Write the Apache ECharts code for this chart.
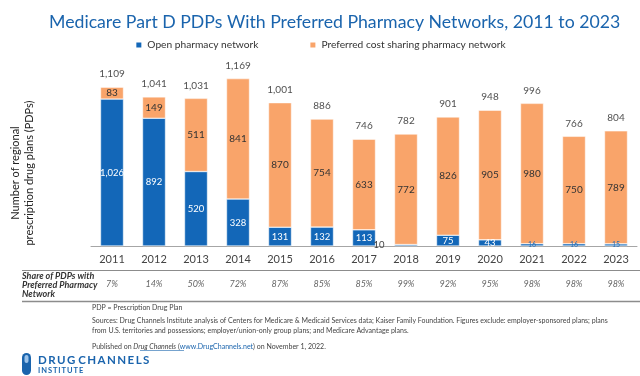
<!DOCTYPE html>
<html><head><meta charset="utf-8">
<script src="https://cdn.jsdelivr.net/npm/echarts@6/dist/echarts.min.js"></script>
<style>html,body{margin:0;padding:0;background:#fff}#c{width:640px;height:376px}</style>
</head><body><div id="c"></div>
<script>
const years = ['2011','2012','2013','2014','2015','2016','2017','2018','2019','2020','2021','2022','2023'];
const openNet = [1026, 892, 520, 328, 131, 132, 113, 10, 75, 43, 16, 16, 15];
const preferredNet = [83, 149, 511, 841, 870, 754, 633, 772, 826, 905, 980, 750, 789];
const totals = [1109, 1041, 1031, 1169, 1001, 886, 746, 782, 901, 948, 996, 766, 804];
const sharePct = ['7%','14%','50%','72%','87%','85%','85%','99%','92%','95%','98%','98%','98%'];

const BLUE = '#1367b8', ORANGE = '#f9a46a', FONT = 'Lato';
const fmt = v => v.toLocaleString('en-US');
const spaced = s => s.split('').join('\u2009');

const chart = echarts.init(document.getElementById('c'));
const openData = openNet.map(v => {
  if (v < 12) return {value: v, label: {position: 'left', distance: 10, color: '#444'}};
  if (v < 30) return {value: v, label: {fontSize: 7, color: '#2a6fb5', position: 'inside'}};
  return v;
});
chart.setOption({
  animation: false,
  textStyle: {fontFamily: FONT},
  title: {text: 'Medicare Part D PDPs With Preferred Pharmacy Networks, 2011 to 2023', left: 44, top: 8,
    textStyle: {fontFamily: FONT, fontSize: 17.7, fontWeight: 'normal', color: '#1a64ad'}},
  legend: {top: 35, left: 'center', itemWidth: 7, itemHeight: 7, itemGap: 50, icon: 'rect',
    textStyle: {fontFamily: FONT, fontSize: 10.2, color: '#333'},
    data: ['Open pharmacy network', 'Preferred cost sharing pharmacy network']},
  grid: {left: 91, right: 3, top: 67, bottom: 130},
  xAxis: [
    {type: 'category', data: years, axisTick: {show: false},
      axisLine: {lineStyle: {color: '#a6a6a6', width: 1}},
      axisLabel: {margin: 8, fontSize: 11, color: '#444', fontFamily: FONT}},
    {type: 'category', data: sharePct, position: 'bottom', offset: 26, axisTick: {show: false},
      axisLine: {show: false},
      axisLabel: {margin: 8, fontSize: 9, color: '#666', fontStyle: 'italic', fontFamily: FONT}}
  ],
  yAxis: {type: 'value', min: 0, max: 1250, show: false},
  series: [
    {name: 'Open pharmacy network', type: 'bar', stack: 't', barWidth: 23, data: openData,
      itemStyle: {color: BLUE, borderColor: '#fff', borderWidth: 0.5},
      label: {show: true, position: 'inside', color: '#fff', fontSize: 9.5, fontFamily: FONT, formatter: p => fmt(p.value)}},
    {name: 'Preferred cost sharing pharmacy network', type: 'bar', stack: 't', barWidth: 23, data: preferredNet,
      itemStyle: {color: ORANGE, borderColor: '#fff', borderWidth: 0.5},
      label: {show: true, position: 'inside', color: '#333', fontSize: 10, fontFamily: FONT, formatter: p => fmt(p.value)}},
    {name: 'Total', type: 'scatter', data: totals, symbolSize: 0, silent: true,
      label: {show: true, position: 'top', distance: 8, color: '#222', fontSize: 10, fontFamily: FONT, formatter: p => fmt(p.value)}}
  ],
  graphic: [
    {type: 'text', x: 22, y: 173, rotation: Math.PI / 2,
      style: {text: 'Number of regional\nprescription drug plans (PDPs)', fontFamily: FONT, fontSize: 11, fill: '#222',
        textAlign: 'center', textVerticalAlign: 'middle', lineHeight: 14}},
    {type: 'line', shape: {x1: 22, y1: 270.5, x2: 640, y2: 270.5}, style: {stroke: '#8c8c8c', lineWidth: 1}},
    {type: 'line', shape: {x1: 22, y1: 301.5, x2: 640, y2: 301.5}, style: {stroke: '#8c8c8c', lineWidth: 1.5}},
    {type: 'text', x: 22, y: 271, style: {text: 'Share of PDPs with\nPreferred Pharmacy\nNetwork', fontFamily: FONT,
      fontSize: 9, fontWeight: 'bold', fontStyle: 'italic', fill: '#333', lineHeight: 9.2}},
    {type: 'text', x: 92, y: 304, style: {text: 'PDP = Prescription Drug Plan', fontFamily: FONT, fontSize: 7, fill: '#444'}},
    {type: 'text', x: 92, y: 315, style: {text: 'Sources: Drug Channels Institute analysis of Centers for Medicare & Medicaid Services data; Kaiser Family Foundation. Figures exclude: employer-sponsored plans; plans\nfrom U.S. territories and possessions; employer/union-only group plans; and Medicare Advantage plans.',
      fontFamily: FONT, fontSize: 7, fill: '#444', lineHeight: 10.5}},
    {type: 'text', x: 92, y: 343, style: {rich: {a: {fontSize: 7, fill: '#444', fontFamily: FONT}, i: {fontSize: 7, fill: '#444', fontStyle: 'italic', fontFamily: FONT}, u: {fontSize: 7, fill: '#1a64ad', fontFamily: FONT}},
      text: '{a|Published on }{i|Drug Channels}{a| (}{u|www.DrugChannels.net}{a|) on November 1, 2022.}'}},
    {type: 'line', shape: {x1: 140, y1: 350.5, x2: 184, y2: 350.5}, style: {stroke: '#1a64ad', lineWidth: 0.6}},
    {type: 'rect', shape: {x: 22, y: 353, width: 9, height: 22, r: 4.5}, style: {fill: '#1a64ad'}},
    {type: 'rect', shape: {x: 24.5, y: 355, width: 4, height: 8, r: 2}, style: {fill: '#9cc3ea'}},
    {type: 'text', x: 38, y: 354, style: {text: spaced('DRUG') + '\u2009\u2009' + spaced('CHANNELS'), fontFamily: FONT, fontSize: 11.5, fontWeight: 'bold', fill: '#1a64ad'}},
    {type: 'text', x: 38, y: 367, style: {text: spaced('INSTITUTE'), fontFamily: FONT, fontSize: 7.5, fontWeight: 'bold', fill: '#1a64ad'}}
  ]
});
</script></body></html>
